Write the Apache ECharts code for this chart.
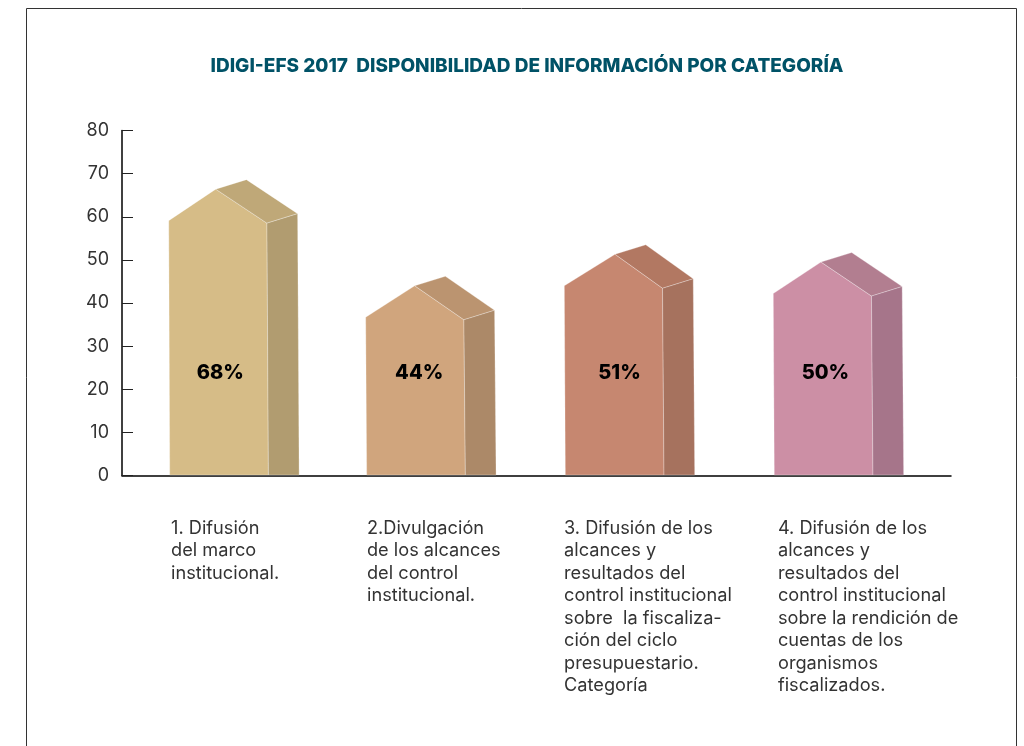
<!DOCTYPE html>
<html><head><meta charset="utf-8">
<style>html,body{margin:0;padding:0;background:#fff}#c{width:1024px;height:746px}</style>
<script src="https://cdn.jsdelivr.net/npm/echarts@6/dist/echarts.min.js"></script>
</head><body><div id="c"></div>
<script>
const categories = [
  "1. Difusión\ndel marco\ninstitucional.",
  "2.Divulgación\nde los alcances\ndel control\ninstitucional.",
  "3. Difusión de los\nalcances y\nresultados del\ncontrol institucional\nsobre  la fiscaliza-\nción del ciclo\npresupuestario.\nCategoría",
  "4. Difusión de los\nalcances y\nresultados del\ncontrol institucional\nsobre la rendición de\ncuentas de los\norganismos\nfiscalizados."
];
const apexValues = [66.4, 44, 51.3, 49.5];
const percentValues = [68, 44, 51, 50];
const yTicks = [0, 80, 10];

const faceColors = ["#D6BC87", "#D0A57D", "#C68770", "#CC8FA5"];
const roofColors = ["#BFA878", "#BB9470", "#B27862", "#B27E90"];
const sideColors = ["#B19C70", "#AC8968", "#A6725E", "#A6758A"];
const leftShift = [-56.9, -67.2, -75.8, -74.1];
const apexInset = [47, 49, 50.7, 47.7];
const labelShift = [-54.6, -65.9, -76.1, -69.4];
const edge = "rgba(255,255,255,0.4)";

const chart = echarts.init(document.getElementById("c"), null, {renderer: "canvas"});

function renderHouse(params, api) {
  const i = api.value(0);
  const apexVal = api.value(1);
  const base = api.coord([i, 0]);
  const top = api.coord([i, apexVal]);
  const L = base[0] + leftShift[i], R = L + 98.2;
  const ax = L + apexInset[i], ay = top[1], by = base[1] - 0.5;
  const dx = 30.7, dy = -9.5;
  const eL = ay + 31.5, eR = ay + 34;
  const poly = (pts, fill) => ({type: "polygon", shape: {points: pts},
    style: {fill: fill, stroke: edge, lineWidth: 0.7}});
  return {type: "group", children: [
    poly([[L + 1, by], [L, eL], [ax, ay], [R, eR], [R + 1.5, by]], faceColors[i]),
    poly([[ax, ay], [ax + dx, ay + dy], [R + dx, eR + dy], [R, eR]], roofColors[i]),
    poly([[R, eR], [R + dx, eR + dy], [R + dx + 1.5, by], [R + 1.5, by]], sideColors[i]),
    {type: "text", x: ax + 4.5, y: api.coord([i, 23.7])[1], style: {
      text: api.value(2) + "%", fill: "#000", textAlign: "center", textVerticalAlign: "middle",
      font: "800 20px Inter"}},
    {type: "text", x: base[0] + labelShift[i], y: by + 42, style: {
      text: categories[i], fill: "#333", textAlign: "left", textVerticalAlign: "top",
      font: "400 18.2px Inter", lineHeight: 22.5}}
  ]};
}

chart.setOption({
  animation: false,
  backgroundColor: "#fff",
  title: {text: "IDIGI-EFS 2017  DISPONIBILIDAD DE INFORMACIÓN POR CATEGORÍA",
    left: 522, top: 52, textAlign: "center",
    textStyle: {color: "#005267", fontFamily: "Inter", fontWeight: 800, fontSize: 19}},
  graphic: [{type: "polyline", silent: true, z: 0,
    shape: {points: [[26.5, 746], [26.5, 8.5], [1016.5, 8.5], [1016.5, 746]]},
    style: {stroke: "#333", lineWidth: 1, fill: null}}],
  grid: {left: 122, right: 73, top: 130.5, bottom: 270.5, containLabel: false},
  xAxis: {type: "category", data: categories.map((c, i) => i), boundaryGap: true,
    axisLine: {show: true, onZero: true, lineStyle: {color: "#000", width: 1.5}},
    axisTick: {show: false}, axisLabel: {show: false}, splitLine: {show: false}},
  yAxis: {type: "value", min: yTicks[0], max: yTicks[1], interval: yTicks[2],
    axisLine: {show: true, lineStyle: {color: "#000", width: 1.5}},
    axisTick: {show: true, inside: true, length: 11, lineStyle: {color: "#222", width: 1}},
    axisLabel: {color: "#333", fontFamily: "Inter", fontSize: 18, margin: 13, padding: [4, 0, 0, 0]},
    splitLine: {show: false}},
  series: [{type: "custom", renderItem: renderHouse, clip: false,
    encode: {x: 0, y: 1},
    data: apexValues.map((v, i) => [i, v, percentValues[i]])}]
});
</script></body></html>
